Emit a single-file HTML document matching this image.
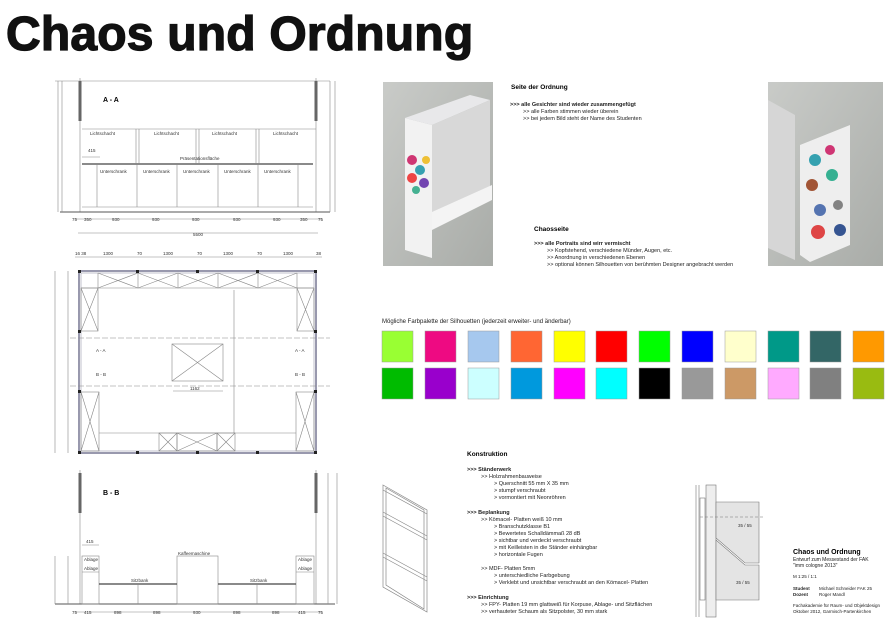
<!DOCTYPE html>
<html><head><meta charset="utf-8"><style>
body{margin:0;background:#fff;}
svg{display:block;font-family:"Liberation Sans",Arial,sans-serif;}
.t{font-size:5.5px;fill:#222}
.d{font-size:4.5px;fill:#333}
.b{font-weight:bold}
</style></head><body>
<svg width="895" height="633" viewBox="0 0 895 633" xmlns="http://www.w3.org/2000/svg">
<text x="6" y="50" font-size="48" font-weight="bold" fill="#111" stroke="#111" stroke-width="1.3" style="letter-spacing:0.2px">Chaos und Ordnung</text>

<!-- A-A -->
<g stroke="#888" stroke-width="0.6" fill="none">
<line x1="80" y1="78" x2="80" y2="212"/><line x1="316" y1="78" x2="316" y2="212"/>
<line x1="55" y1="81" x2="330" y2="81"/>
<line x1="60" y1="212" x2="330" y2="212" stroke="#555" stroke-width="1"/>
<line x1="82" y1="129" x2="316" y2="129"/>
<line x1="82" y1="164" x2="313" y2="164" stroke="#444" stroke-width="1.2"/>
<line x1="82" y1="207" x2="313" y2="207"/>
<line x1="136" y1="129" x2="136" y2="164"/><line x1="139" y1="129" x2="139" y2="164"/>
<line x1="196" y1="129" x2="196" y2="164"/><line x1="199" y1="129" x2="199" y2="164"/>
<line x1="256" y1="129" x2="256" y2="164"/><line x1="259" y1="129" x2="259" y2="164"/>
<line x1="97" y1="164" x2="97" y2="207"/><line x1="137" y1="164" x2="137" y2="207"/>
<line x1="177" y1="164" x2="177" y2="207"/><line x1="218" y1="164" x2="218" y2="207"/>
<line x1="258" y1="164" x2="258" y2="207"/><line x1="298" y1="164" x2="298" y2="207"/>
<line x1="82" y1="157" x2="100" y2="157"/>
<line x1="62" y1="81" x2="62" y2="212"/><line x1="58" y1="81" x2="58" y2="212"/>
<line x1="330" y1="81" x2="330" y2="212"/><line x1="335" y1="81" x2="335" y2="212"/>
<line x1="75" y1="219" x2="322" y2="219"/><line x1="78" y1="233" x2="318" y2="233"/>
</g>
<rect x="78.5" y="81" width="3" height="40" fill="#666"/><rect x="314.5" y="81" width="3" height="40" fill="#666"/>
<text x="103" y="102" font-size="7" class="b">A - A</text>
<g class="d" font-size="4.5">
<text x="90" y="135">Lichtschacht</text><text x="154" y="135">Lichtschacht</text><text x="212" y="135">Lichtschacht</text><text x="273" y="135">Lichtschacht</text>
<text x="180" y="160">Präsentationsfläche</text>
<text x="100" y="173">Unterschrank</text><text x="143" y="173">Unterschrank</text><text x="183" y="173">Unterschrank</text><text x="224" y="173">Unterschrank</text><text x="264" y="173">Unterschrank</text>
<text x="72" y="221">75</text><text x="84" y="221">350</text><text x="112" y="221">930</text><text x="152" y="221">930</text><text x="192" y="221">930</text><text x="233" y="221">930</text><text x="273" y="221">930</text><text x="300" y="221">350</text><text x="318" y="221">75</text>
<text x="193" y="236">5500</text><text x="88" y="152">415</text>
</g>

<!-- Plan -->
<g stroke="#888" stroke-width="0.6" fill="none">
<rect x="79" y="271" width="237" height="182" stroke="#557" stroke-width="1.2"/>
<rect x="81" y="273" width="233" height="178" stroke="#99a"/>
<line x1="81" y1="288" x2="314" y2="288"/>
<line x1="98" y1="273" x2="98" y2="288"/><line x1="138" y1="273" x2="138" y2="288"/><line x1="178" y1="273" x2="178" y2="288"/><line x1="218" y1="273" x2="218" y2="288"/><line x1="258" y1="273" x2="258" y2="288"/><line x1="297" y1="273" x2="297" y2="288"/>
<path d="M98 273L138 288M138 273L98 288M138 273L178 288M178 273L138 288M178 273L218 288M218 273L178 288M218 273L258 288M258 273L218 288M258 273L297 288M297 273L258 288"/>
<rect x="81" y="288" width="17" height="43"/><path d="M81 288L98 331M98 288L81 331"/>
<rect x="297" y="288" width="17" height="43"/><path d="M297 288L314 331M314 288L297 331"/>
<rect x="81" y="392" width="18" height="59"/><path d="M81 392L99 451M99 392L81 451"/>
<rect x="296" y="392" width="18" height="59"/><path d="M296 392L314 451M314 392L296 451"/>
<line x1="99" y1="433" x2="296" y2="433"/>
<rect x="159" y="433" width="18" height="18"/><path d="M159 433L177 451M177 433L159 451"/>
<rect x="177" y="433" width="40" height="18"/><path d="M177 433L217 451M217 433L177 451"/>
<rect x="217" y="433" width="18" height="18"/><path d="M217 433L235 451M235 433L217 451"/>
<rect x="172" y="344" width="51" height="37"/><path d="M172 344L223 381M223 344L172 381"/>
<line x1="70" y1="338" x2="330" y2="338" stroke-dasharray="6,2"/>
<line x1="70" y1="386" x2="330" y2="386" stroke-dasharray="6,2"/>
<line x1="234" y1="290" x2="234" y2="433"/><line x1="173" y1="391" x2="223" y2="391"/>
<line x1="75" y1="257" x2="322" y2="257"/><line x1="55" y1="271" x2="55" y2="453"/><line x1="68" y1="271" x2="68" y2="453"/>
</g>
<g fill="#222"><rect x="78" y="270" width="3" height="3"/><rect x="136" y="270" width="3" height="3"/><rect x="196" y="270" width="3" height="3"/><rect x="256" y="270" width="3" height="3"/><rect x="314" y="270" width="3" height="3"/>
<rect x="78" y="451" width="3" height="3"/><rect x="136" y="451" width="3" height="3"/><rect x="196" y="451" width="3" height="3"/><rect x="256" y="451" width="3" height="3"/><rect x="314" y="451" width="3" height="3"/>
<rect x="78" y="330" width="3" height="3"/><rect x="314" y="330" width="3" height="3"/><rect x="78" y="390" width="3" height="3"/><rect x="314" y="390" width="3" height="3"/></g>
<g class="d">
<text x="75" y="255">16 38</text><text x="103" y="255">1300</text><text x="137" y="255">70</text><text x="163" y="255">1300</text><text x="197" y="255">70</text><text x="223" y="255">1300</text><text x="257" y="255">70</text><text x="283" y="255">1300</text><text x="316" y="255">38</text>
<text x="96" y="352">A - A</text><text x="295" y="352">A - A</text><text x="96" y="376">B - B</text><text x="295" y="376">B - B</text>
<text x="190" y="390">1162</text>
</g>

<!-- B-B -->
<g stroke="#888" stroke-width="0.6" fill="none">
<line x1="80" y1="470" x2="80" y2="604"/><line x1="316" y1="470" x2="316" y2="604"/>
<line x1="55" y1="604" x2="335" y2="604" stroke="#555" stroke-width="1"/>
<rect x="82" y="556" width="17" height="48"/><line x1="82" y1="572" x2="99" y2="572"/>
<rect x="296" y="556" width="18" height="48"/><line x1="296" y1="572" x2="314" y2="572"/>
<rect x="177" y="556" width="41" height="48"/>
<line x1="99" y1="584" x2="177" y2="584" stroke="#444" stroke-width="1.2"/>
<line x1="218" y1="584" x2="296" y2="584" stroke="#444" stroke-width="1.2"/>
<line x1="138" y1="584" x2="138" y2="604"/><line x1="257" y1="584" x2="257" y2="604"/>
<line x1="75" y1="612" x2="322" y2="612"/><line x1="82" y1="545" x2="99" y2="545"/>
<line x1="55" y1="556" x2="55" y2="604"/><line x1="68" y1="556" x2="68" y2="604"/><line x1="328" y1="473" x2="328" y2="604"/><line x1="337" y1="473" x2="337" y2="604"/>
</g>
<rect x="78.5" y="473" width="3" height="40" fill="#666"/><rect x="314.5" y="473" width="3" height="40" fill="#666"/>
<text x="103" y="495" font-size="7" class="b">B - B</text>
<g class="d">
<text x="84" y="561">Ablage</text><text x="84" y="570">Ablage</text><text x="298" y="561">Ablage</text><text x="298" y="570">Ablage</text>
<text x="178" y="555">Kaffeemaschine</text><text x="131" y="582">Sitzbank</text><text x="250" y="582">Sitzbank</text>
<text x="72" y="614">75</text><text x="84" y="614">415</text><text x="114" y="614">898</text><text x="153" y="614">898</text><text x="193" y="614">930</text><text x="233" y="614">898</text><text x="272" y="614">898</text><text x="298" y="614">415</text><text x="318" y="614">75</text>
<text x="86" y="543">415</text>
</g>

<!-- renders -->
<defs><linearGradient id="g1" x1="0" y1="0" x2="1" y2="1"><stop offset="0" stop-color="#c9cbc8"/><stop offset="1" stop-color="#a9aca8"/></linearGradient></defs>
<rect x="383" y="82" width="110" height="184" fill="url(#g1)"/>
<path d="M405 118L432 125L432 258L405 250Z" fill="#f2f2f2"/>
<path d="M405 118L470 95L490 100L432 125Z" fill="#e8e8ea"/>
<path d="M432 125L490 100L490 200L455 215L432 225Z" fill="#d8d8d8"/>
<path d="M432 212L492 185L492 200L432 230Z" fill="#f4f4f4"/>
<g opacity="0.9"><circle cx="412" cy="160" r="5" fill="#cc2266"/><circle cx="420" cy="170" r="5" fill="#2299aa"/><circle cx="412" cy="178" r="5" fill="#ee3333"/><circle cx="424" cy="183" r="5" fill="#6633aa"/><circle cx="416" cy="190" r="4" fill="#33aa88"/><circle cx="426" cy="160" r="4" fill="#eebb22"/></g>
<rect x="768" y="82" width="115" height="184" fill="url(#g1)"/>
<path d="M768 100L795 115L795 260L768 248Z" fill="#d6d6d6"/>
<path d="M800 145L850 125L850 245L810 262L800 255Z" fill="#eeeeee"/>
<g opacity="0.9"><circle cx="815" cy="160" r="6" fill="#2299aa"/><circle cx="830" cy="150" r="5" fill="#cc2266"/><circle cx="812" cy="185" r="6" fill="#994422"/><circle cx="832" cy="175" r="6" fill="#22aa88"/><circle cx="820" cy="210" r="6" fill="#4466aa"/><circle cx="838" cy="205" r="5" fill="#777"/><circle cx="818" cy="232" r="7" fill="#dd3333"/><circle cx="840" cy="230" r="6" fill="#224488"/></g>

<g class="t">
<text x="511" y="89" font-size="6.5" class="b" fill="#000">Seite der Ordnung</text>
<text x="510" y="106" class="b">&gt;&gt;&gt; alle Gesichter sind wieder zusammengefügt</text>
<text x="523" y="113">&gt;&gt; alle Farben stimmen wieder überein</text>
<text x="523" y="120">&gt;&gt; bei jedem Bild steht der Name des Studenten</text>
<text x="534" y="231" font-size="6.5" class="b" fill="#000">Chaosseite</text>
<text x="534" y="245" class="b">&gt;&gt;&gt; alle Portraits sind wirr vermischt</text>
<text x="547" y="252">&gt;&gt; Kopfstehend, verschiedene Münder, Augen, etc.</text>
<text x="547" y="259">&gt;&gt; Anordnung in verschiedenen Ebenen</text>
<text x="547" y="266">&gt;&gt; optional können Silhouetten von berühmten Designer angebracht werden</text>
<text x="382" y="323" font-size="6">Mögliche Farbpalette der Silhouetten (jederzeit erweiter- und änderbar)</text>
</g>

<g stroke="#999" stroke-width="0.5">
<rect x="382" y="331" width="31" height="31" fill="#99ff33"/><rect x="425" y="331" width="31" height="31" fill="#ee0a82"/><rect x="468" y="331" width="31" height="31" fill="#a6c8ee"/><rect x="511" y="331" width="31" height="31" fill="#ff6633"/><rect x="554" y="331" width="31" height="31" fill="#ffff00"/><rect x="596" y="331" width="31" height="31" fill="#ff0000"/><rect x="639" y="331" width="31" height="31" fill="#00ff00"/><rect x="682" y="331" width="31" height="31" fill="#0000ff"/><rect x="725" y="331" width="31" height="31" fill="#ffffcc"/><rect x="768" y="331" width="31" height="31" fill="#009988"/><rect x="810" y="331" width="31" height="31" fill="#336666"/><rect x="853" y="331" width="31" height="31" fill="#ff9900"/>
<rect x="382" y="368" width="31" height="31" fill="#00bb00"/><rect x="425" y="368" width="31" height="31" fill="#9900cc"/><rect x="468" y="368" width="31" height="31" fill="#ccffff"/><rect x="511" y="368" width="31" height="31" fill="#0099dd"/><rect x="554" y="368" width="31" height="31" fill="#ff00ff"/><rect x="596" y="368" width="31" height="31" fill="#00ffff"/><rect x="639" y="368" width="31" height="31" fill="#000000"/><rect x="682" y="368" width="31" height="31" fill="#999999"/><rect x="725" y="368" width="31" height="31" fill="#cc9966"/><rect x="768" y="368" width="31" height="31" fill="#ffaaff"/><rect x="810" y="368" width="31" height="31" fill="#808080"/><rect x="853" y="368" width="31" height="31" fill="#99bb11"/>
</g>

<!-- Konstruktion -->
<g class="t">
<text x="467" y="456" font-size="6.5" class="b" fill="#000">Konstruktion</text>
<text x="467" y="471" class="b">&gt;&gt;&gt; Ständerwerk</text>
<text x="481" y="478">&gt;&gt; Holzrahmenbauweise</text>
<text x="494" y="485">&gt; Querschnitt 55 mm X 35 mm</text>
<text x="494" y="492">&gt; stumpf verschraubt</text>
<text x="494" y="499">&gt; vormontiert mit Neonröhren</text>
<text x="467" y="514" class="b">&gt;&gt;&gt; Beplankung</text>
<text x="481" y="521">&gt;&gt; Kömacel- Platten weiß 10 mm</text>
<text x="494" y="528">&gt; Branschutzklasse B1</text>
<text x="494" y="535">&gt; Bewertetes Schalldämmaß 28 dB</text>
<text x="494" y="542">&gt; sichtbar und verdeckt verschraubt</text>
<text x="494" y="549">&gt; mit Keilleisten in die Ständer einhängbar</text>
<text x="494" y="556">&gt; horizontale Fugen</text>
<text x="481" y="570">&gt;&gt; MDF- Platten 5mm</text>
<text x="494" y="577">&gt; unterschiedliche Farbgebung</text>
<text x="494" y="584">&gt; Verklebt und unsichtbar verschraubt an den Kömacel- Platten</text>
<text x="467" y="599" class="b">&gt;&gt;&gt; Einrichtung</text>
<text x="481" y="606">&gt;&gt; FPY- Platten 19 mm glattweiß für Korpuse, Ablage- und Sitzflächen</text>
<text x="481" y="613">&gt;&gt; verhauteter Schaum als Sitzpolster, 30 mm stark</text>
</g>

<!-- frame iso -->
<g stroke="#888" stroke-width="0.7" fill="none">
<path d="M383 485L427 510L427 612L383 587Z"/>
<path d="M386 488L424 510L424 609L386 585Z"/>
<path d="M383 512L427 536M383 516L427 540M383 553L427 577M383 557L427 581M383 490L427 514"/>
</g>

<!-- detail -->
<g stroke="#777" stroke-width="0.6" fill="none">
<line x1="696" y1="485" x2="696" y2="617"/><line x1="699" y1="485" x2="699" y2="617"/>
<rect x="700" y="498" width="5" height="102"/>
<rect x="706" y="485" width="10" height="132" fill="#eee"/>
<path d="M716 502L759 502L759 563L745 563L716 538Z" fill="#e4e4e4"/>
<path d="M716 540L745 565L759 565L759 600L716 600Z" fill="#e4e4e4"/>
<line x1="700" y1="517" x2="765" y2="517" stroke-dasharray="3,2"/>
</g>
<g class="d" font-size="3.8"><text x="738" y="527">35 / 55</text><text x="736" y="584">35 / 55</text></g>

<!-- title block -->
<g class="t">
<text x="793" y="554" font-size="7" class="b" fill="#000">Chaos und Ordnung</text>
<text x="793" y="561" font-size="5">Entwurf zum Messestand der FAK</text>
<text x="793" y="567" font-size="5">"imm cologne 2013"</text>
<text x="793" y="578" font-size="4.5">M 1:25 / 1:1</text>
<text x="793" y="590" font-size="4.5" class="b">Student</text><text x="819" y="590" font-size="4.5">Michael Schneider FAK 25</text>
<text x="793" y="596" font-size="4.5" class="b">Dozent</text><text x="819" y="596" font-size="4.5">Roger Mandl</text>
<text x="793" y="607" font-size="4.5">Fachakademie für Raum- und Objektdesign</text>
<text x="793" y="613" font-size="4.5">Oktober 2012, Garmisch-Partenkirchen</text>
</g>
</svg>
</body></html>
